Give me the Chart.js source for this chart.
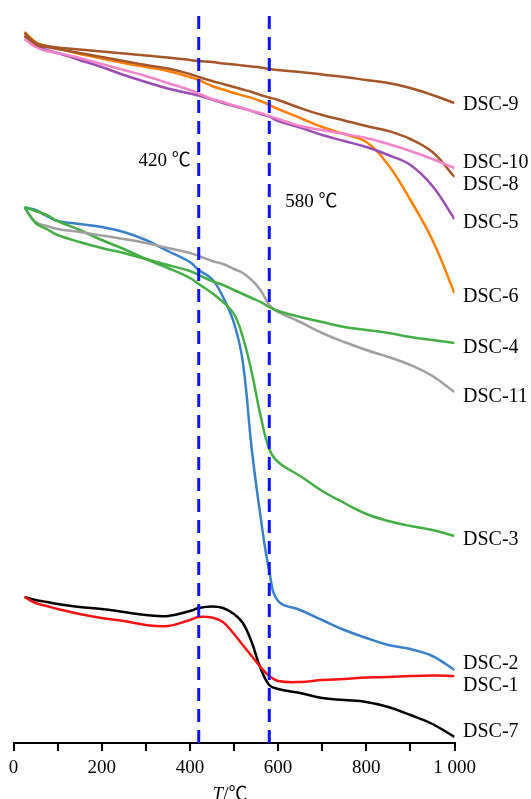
<!DOCTYPE html>
<html>
<head>
<meta charset="utf-8">
<script src="https://cdn.jsdelivr.net/npm/chart.js@4/dist/chart.umd.min.js"></script>
<style>
  html, body { margin: 0; padding: 0; background: #ffffff; }
  #wrap { width: 531px; height: 799px; }
</style>
</head>
<body>
<div id="wrap"><canvas id="dsc" width="531" height="799"></canvas></div>
<script>
// Temperature grid (°C) shared by every DSC curve
const temperature = [25, 50, 75, 100, 150, 200, 250, 300, 350, 400, 420, 450, 475, 500, 520, 540, 560, 580, 600, 650, 700, 750, 800, 850, 900, 950, 1000];

// Heat-flow curves (offset, arbitrary units)
const dsc9  = [71.0, 70.0, 69.7, 69.55, 69.35, 69.15, 68.95, 68.75, 68.55, 68.3, 68.2, 68.1, 67.95, 67.85, 67.75, 67.65, 67.55, 67.4, 67.3, 67.1, 66.85, 66.6, 66.3, 66.0, 65.5, 64.8, 64.0];
const dsc10 = [70.4, 69.6, 69.2, 69.0, 68.5, 67.9, 67.3, 66.7, 66.0, 65.3, 64.95, 64.4, 64.1, 63.75, 63.5, 63.2, 63.0, 62.7, 62.4, 61.7, 61.3, 60.9, 60.5, 59.9, 59.2, 58.4, 57.5];
const dsc8  = [70.7, 69.8, 69.6, 69.4, 69.0, 68.6, 68.2, 67.8, 67.45, 66.9, 66.6, 66.2, 65.9, 65.6, 65.35, 65.1, 64.8, 64.55, 64.3, 63.5, 62.8, 62.25, 61.7, 61.2, 60.4, 59.1, 56.6];
const dsc5  = [70.7, 69.8, 69.3, 69.0, 68.3, 67.6, 66.8, 66.1, 65.45, 64.95, 64.75, 64.35, 64.0, 63.7, 63.45, 63.2, 62.9, 62.65, 62.2, 61.55, 60.8, 60.2, 59.6, 58.8, 57.8, 55.7, 52.4];
const dsc6  = [71.1, 70.1, 69.7, 69.45, 68.9, 68.45, 68.0, 67.6, 67.2, 66.6, 66.3, 65.7, 65.35, 65.0, 64.75, 64.5, 64.2, 63.8, 63.4, 62.5, 61.6, 60.9, 60.1, 57.8, 54.3, 50.3, 45.0];
const dsc4  = [53.6, 52.0, 51.4, 50.8, 50.1, 49.5, 49.0, 48.4, 47.8, 47.2, 46.8, 46.2, 45.8, 45.3, 44.9, 44.5, 44.1, 43.6, 43.2, 42.6, 42.1, 41.6, 41.3, 41.0, 40.6, 40.3, 40.0];
const dsc11 = [53.5, 52.1, 51.7, 51.4, 51.1, 50.75, 50.4, 50.0, 49.5, 49.0, 48.7, 48.2, 47.9, 47.4, 47.0, 46.3, 45.3, 43.8, 43.1, 42.1, 41.0, 40.1, 39.3, 38.6, 37.8, 36.7, 35.1];
const dsc3  = [53.6, 53.2, 52.8, 52.2, 51.3, 50.3, 49.4, 48.4, 47.5, 46.5, 45.9, 45.0, 44.1, 42.9, 40.6, 37.1, 32.8, 29.4, 28.1, 26.7, 25.2, 24.0, 22.9, 22.2, 21.7, 21.3, 20.7];
const dsc2  = [53.5, 53.3, 52.7, 52.2, 51.9, 51.6, 51.1, 50.3, 49.2, 48.1, 47.3, 46.4, 44.6, 42.0, 38.1, 29.5, 22.7, 17.2, 14.2, 13.3, 12.3, 11.3, 10.5, 9.8, 9.4, 8.7, 7.3];
const dsc1  = [14.6, 14.0, 13.7, 13.4, 12.9, 12.5, 12.2, 11.8, 11.7, 12.3, 12.6, 12.55, 12.1, 10.9, 9.8, 8.7, 7.6, 6.7, 6.2, 6.1, 6.3, 6.4, 6.55, 6.6, 6.7, 6.75, 6.7];
const dsc7  = [14.6, 14.3, 14.1, 13.9, 13.6, 13.4, 13.1, 12.8, 12.7, 13.2, 13.5, 13.65, 13.5, 12.9, 12.0, 10.1, 7.5, 5.8, 5.4, 5.0, 4.5, 4.3, 4.1, 3.6, 2.8, 1.9, 0.6];

// Characteristic temperatures marked with dashed lines
const markerTemps = [420, 580];
const markerLabels = ['420 ℃', '580 ℃'];

// X-axis tick labels (every 200 °C)
const tickLabels = ['0', '200', '400', '600', '800', '1 000'];

const SERIF = '"Liberation Serif", "Times New Roman", "Noto Sans CJK SC", serif';

const curves = [
  { name: 'DSC-9',  values: dsc9,  color: '#a5552a', dy: 2 },
  { name: 'DSC-10', values: dsc10, color: '#f484c8', dy: -5 },
  { name: 'DSC-8',  values: dsc8,  color: '#a5552a', dy: 8 },
  { name: 'DSC-5',  values: dsc5,  color: '#9a4db3', dy: 4 },
  { name: 'DSC-6',  values: dsc6,  color: '#ff8000', dy: 4 },
  { name: 'DSC-4',  values: dsc4,  color: '#44ad46', dy: 5 },
  { name: 'DSC-11', values: dsc11, color: '#a0a0a0', dy: 5 },
  { name: 'DSC-3',  values: dsc3,  color: '#44ad46', dy: 4 },
  { name: 'DSC-2',  values: dsc2,  color: '#3a80c8', dy: -6 },
  { name: 'DSC-1',  values: dsc1,  color: '#f01414', dy: 10 },
  { name: 'DSC-7',  values: dsc7,  color: '#000000', dy: -5 }
];

const Y_MIN = 0, Y_MAX = 73;

const markerSets = markerTemps.map((t, i) => ({
  label: markerLabels[i],
  isMarker: true,
  data: [{ x: t, y: Y_MIN }, { x: t, y: Y_MAX }],
  borderColor: '#0a14ff',
  borderWidth: 3,
  borderDash: [13, 8],
  pointRadius: 0,
  tension: 0
}));

const curveSets = curves.map(c => ({
  label: c.name,
  labelDy: c.dy,
  data: temperature.map((t, i) => ({ x: t, y: c.values[i] })),
  borderColor: c.color,
  borderWidth: 2.5,
  pointRadius: 0,
  tension: 0.4
}));

// Curve names at the right-hand end of each line
const endLabels = {
  id: 'endLabels',
  afterDatasetsDraw(chart) {
    const ctx = chart.ctx;
    ctx.save();
    ctx.font = '20px ' + SERIF;
    ctx.fillStyle = '#000';
    ctx.textAlign = 'left';
    ctx.textBaseline = 'middle';
    chart.data.datasets.forEach((ds, i) => {
      if (ds.isMarker) return;
      const pts = chart.getDatasetMeta(i).data;
      const last = pts[pts.length - 1];
      ctx.fillText(ds.label, last.x + 8.5, last.y + (ds.labelDy || 0));
    });
    ctx.restore();
  }
};

// Temperature annotations beside the dashed lines
const markerText = {
  id: 'markerText',
  afterDatasetsDraw(chart) {
    const ctx = chart.ctx;
    const xs = chart.scales.x, ys = chart.scales.y;
    ctx.save();
    ctx.font = '19px ' + SERIF;
    ctx.fillStyle = '#000';
    ctx.textBaseline = 'middle';
    // first label sits left of its line, second to the right
    ctx.textAlign = 'right';
    ctx.fillText(markerLabels[0], xs.getPixelForValue(markerTemps[0]) - 8, ys.getPixelForValue(58.2));
    ctx.textAlign = 'left';
    ctx.fillText(markerLabels[1], xs.getPixelForValue(markerTemps[1]) + 16, ys.getPixelForValue(54.1));
    ctx.restore();
  }
};

// Axis title "T/℃" with italic T, sitting at the lower edge of the canvas
const axisTitle = {
  id: 'axisTitle',
  afterDraw(chart) {
    const ctx = chart.ctx;
    const a = chart.chartArea;
    ctx.save();
    ctx.fillStyle = '#000';
    ctx.textBaseline = 'alphabetic';
    const italic = 'italic 19px ' + SERIF;
    const normal = '19px ' + SERIF;
    ctx.font = italic;
    const wT = ctx.measureText('T').width;
    ctx.font = normal;
    const wRest = ctx.measureText('/℃').width;
    const x0 = (a.left + a.right) / 2 - 4 - (wT + wRest) / 2;
    const y = 800;
    ctx.font = italic;
    ctx.textAlign = 'left';
    ctx.fillText('T', x0, y);
    ctx.font = normal;
    ctx.fillText('/℃', x0 + wT, y);
    ctx.restore();
  }
};

new Chart(document.getElementById('dsc'), {
  type: 'line',
  data: { datasets: [...markerSets, ...curveSets] },
  options: {
    responsive: false,
    animation: false,
    devicePixelRatio: 1,
    layout: { padding: { left: 13.5, right: 76.5, top: 13, bottom: 0 } },
    plugins: { legend: { display: false }, tooltip: { enabled: false } },
    scales: {
      x: {
        type: 'linear',
        min: 0,
        max: 1000,
        ticks: {
          stepSize: 100,
          autoSkip: false,
          maxRotation: 0,
          padding: 6,
          color: '#000',
          font: { family: SERIF, size: 19 },
          callback: v => (v % 200 === 0 ? tickLabels[v / 200] : '')
        },
        grid: { drawOnChartArea: false, drawTicks: true, tickLength: 8, color: '#000', lineWidth: 2 },
        border: { display: true, color: '#000', width: 2 },
        afterFit(scale) { scale.height = 56; }
      },
      y: { display: false, min: Y_MIN, max: Y_MAX }
    }
  },
  plugins: [endLabels, markerText, axisTitle]
});
</script>
</body>
</html>
